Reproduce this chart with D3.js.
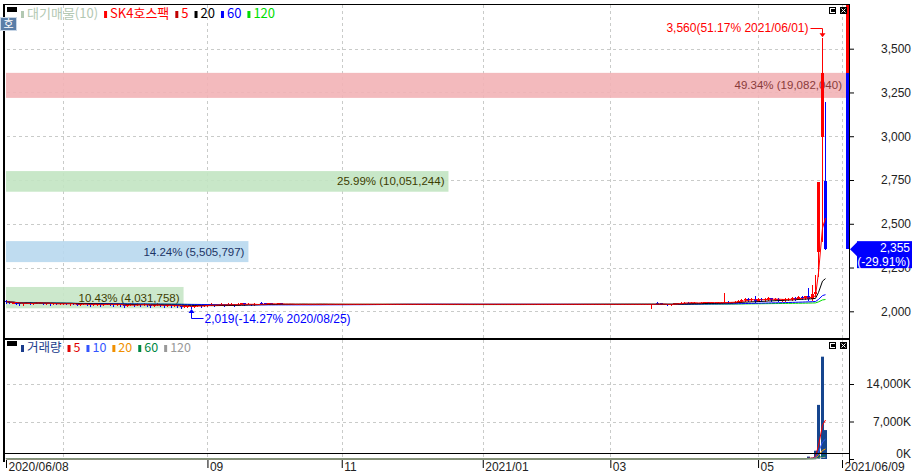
<!DOCTYPE html>
<html><head><meta charset="utf-8">
<script src="https://cdn.jsdelivr.net/npm/d3@7"></script>
<style>body{margin:0;background:#fff}svg{display:block}</style>
</head><body>
<svg id="c" width="912" height="476"></svg>
<script>
// ---------------- DATA ----------------
const startDate = "2020-06-08", endDate = "2021-06-09";
const holidays = ["2020-08-17","2020-09-30","2020-10-01","2020-10-02","2020-10-09","2020-12-25","2020-12-31",
  "2021-01-01","2021-02-11","2021-02-12","2021-03-01","2021-05-05","2021-05-19"];
// daily [open, high, low, close] from 2020-06-08 to 2021-06-02
const ohlc = [
 // June 2020
 [2060,2065,2050,2055],[2055,2060,2045,2050],[2050,2055,2045,2050],[2050,2055,2040,2045],[2045,2050,2035,2040],
 [2040,2050,2035,2045],[2045,2055,2045,2050],[2050,2055,2040,2045],[2045,2050,2040,2045],[2045,2055,2045,2050],
 [2050,2055,2045,2050],[2050,2050,2040,2045],[2045,2050,2040,2045],[2045,2045,2035,2040],[2040,2050,2040,2045],
 [2045,2050,2040,2040],[2040,2050,2040,2045],
 // July
 [2045,2050,2040,2045],[2045,2050,2040,2040],[2040,2045,2035,2045],[2045,2050,2040,2040],[2040,2045,2035,2035],
 [2035,2045,2035,2040],[2040,2050,2040,2045],[2045,2045,2035,2040],[2040,2040,2030,2035],[2035,2045,2035,2040],
 [2040,2045,2035,2040],[2040,2040,2030,2035],[2035,2045,2035,2040],[2040,2050,2040,2045],[2045,2045,2035,2040],
 [2040,2040,2030,2035],[2035,2045,2035,2040],[2040,2040,2030,2035],[2035,2035,2025,2030],[2030,2040,2030,2035],
 [2035,2045,2035,2040],[2040,2040,2030,2035],[2035,2045,2035,2040],
 // August
 [2040,2040,2030,2035],[2035,2045,2035,2040],[2040,2040,2030,2035],[2035,2035,2025,2030],[2030,2040,2030,2035],
 [2035,2045,2035,2040],[2040,2040,2030,2035],[2035,2035,2025,2030],[2030,2040,2030,2035],[2035,2035,2025,2030],
 [2030,2040,2030,2035],[2035,2035,2025,2030],[2030,2030,2020,2025],[2025,2035,2025,2030],[2030,2030,2025,2030],
 [2030,2030,2019,2025],[2025,2035,2025,2030],[2030,2040,2030,2035],[2035,2035,2025,2030],[2030,2040,2030,2035],
 // September
 [2035,2040,2030,2035],[2035,2045,2035,2040],[2040,2040,2030,2035],[2035,2040,2035,2035],[2035,2045,2035,2040],
 [2040,2040,2030,2035],[2035,2045,2035,2040],[2040,2045,2035,2040],[2040,2040,2030,2035],[2035,2045,2035,2040],
 [2040,2050,2040,2045],[2045,2045,2035,2040],[2040,2045,2040,2040],[2040,2040,2035,2035],[2035,2045,2035,2040],
 [2040,2040,2040,2040],[2050,2052,2045,2047],[2047,2047,2040,2040],[2040,2045,2040,2045],[2045,2045,2040,2040],
 [2040,2040,2040,2040],
 // October
 [2040,2045,2040,2045],[2045,2045,2040,2040],
 [2040,2040,2040,2040],[2040,2040,2040,2040],[2040,2040,2040,2040],[2040,2040,2040,2040],[2040,2040,2040,2040],
 [2040,2040,2040,2040],[2040,2040,2040,2040],[2040,2040,2040,2040],[2040,2040,2040,2040],[2040,2040,2040,2040],
 [2040,2040,2040,2040],[2040,2040,2040,2040],[2040,2040,2040,2040],[2040,2040,2040,2040],[2040,2040,2040,2040],
 [2040,2040,2040,2040],[2040,2040,2040,2040],
 // November
 [2040,2040,2040,2040],[2040,2040,2040,2040],[2040,2040,2040,2040],[2040,2040,2040,2040],[2040,2040,2040,2040],
 [2040,2040,2040,2040],[2040,2040,2040,2040],[2040,2040,2040,2040],[2040,2040,2040,2040],[2040,2040,2040,2040],
 [2040,2040,2040,2040],[2040,2040,2040,2040],[2040,2040,2040,2040],[2040,2040,2040,2040],[2040,2040,2040,2040],
 [2040,2040,2040,2040],[2040,2040,2040,2040],[2040,2040,2040,2040],[2040,2040,2040,2040],[2040,2040,2040,2040],
 [2040,2040,2040,2040],
 // December
 [2040,2040,2040,2040],[2040,2040,2040,2040],[2040,2040,2040,2040],[2040,2040,2040,2040],[2040,2040,2040,2040],
 [2040,2040,2040,2040],[2040,2040,2040,2040],[2040,2040,2040,2040],[2040,2040,2040,2040],[2040,2040,2040,2040],
 [2040,2040,2040,2040],[2040,2040,2040,2040],[2040,2040,2040,2040],[2040,2040,2040,2040],[2040,2040,2040,2040],
 [2040,2040,2040,2040],[2040,2040,2040,2040],[2040,2040,2040,2040],[2040,2040,2040,2040],[2040,2040,2040,2040],
 [2040,2040,2040,2040],
 // January 2021
 [2040,2040,2040,2040],[2040,2040,2040,2040],[2040,2040,2040,2040],[2040,2040,2040,2040],[2040,2040,2040,2040],
 [2040,2040,2040,2040],[2040,2040,2040,2040],[2040,2040,2040,2040],[2040,2040,2040,2040],[2040,2040,2040,2040],
 [2040,2040,2040,2040],[2040,2040,2040,2040],[2040,2040,2040,2040],[2040,2040,2040,2040],[2040,2040,2040,2040],
 [2040,2040,2040,2040],[2040,2040,2040,2040],[2040,2040,2040,2040],[2040,2040,2040,2040],[2040,2040,2040,2040],
 // February
 [2040,2040,2040,2040],[2040,2040,2040,2040],[2040,2040,2040,2040],[2040,2040,2040,2040],[2040,2040,2040,2040],
 [2040,2040,2040,2040],[2040,2040,2040,2040],[2040,2040,2040,2040],[2040,2040,2040,2040],[2040,2040,2040,2040],
 [2040,2040,2040,2040],[2040,2040,2040,2040],[2040,2040,2040,2040],[2040,2040,2040,2040],[2040,2040,2040,2040],
 [2040,2040,2040,2040],[2040,2040,2040,2040],[2040,2040,2040,2040],
 // March
 [2040,2040,2040,2040],[2040,2040,2040,2040],[2040,2040,2040,2040],[2040,2040,2040,2040],[2040,2040,2040,2040],
 [2040,2040,2040,2040],[2040,2040,2040,2040],[2040,2040,2040,2040],[2040,2040,2040,2040],[2040,2040,2040,2040],
 [2040,2040,2040,2040],[2040,2040,2040,2040],
 [2040,2040,2020,2040],[2040,2040,2040,2040],[2050,2055,2045,2045],[2045,2050,2040,2040],[2040,2040,2040,2040],
 [2040,2040,2035,2035],[2035,2040,2035,2040],[2040,2050,2040,2045],[2045,2050,2045,2050],[2050,2055,2045,2050],
 // April
 [2050,2055,2050,2050],[2050,2055,2045,2045],[2045,2055,2045,2050],[2050,2055,2045,2050],[2050,2050,2045,2045],
 [2045,2055,2045,2050],[2050,2055,2050,2055],[2055,2055,2045,2050],[2050,2055,2045,2050],[2050,2050,2045,2045],
 [2045,2055,2045,2050],[2050,2055,2045,2050],[2050,2105,2045,2055],[2055,2060,2050,2050],[2050,2055,2045,2050],
 [2050,2060,2050,2055],[2055,2065,2055,2060],[2060,2070,2055,2065],[2065,2075,2060,2070],[2070,2075,2060,2065],
 [2065,2075,2060,2070],[2070,2085,2055,2060],
 // May
 [2060,2075,2060,2070],[2070,2075,2060,2065],[2065,2075,2060,2070],[2070,2080,2065,2075],[2075,2075,2060,2065],
 [2065,2075,2065,2070],[2070,2075,2060,2065],[2065,2070,2060,2065],[2065,2075,2060,2070],[2070,2075,2065,2070],
 [2070,2080,2065,2075],[2075,2080,2065,2070],[2070,2085,2070,2080],[2080,2090,2070,2075],[2075,2090,2070,2085],
 [2085,2135,2065,2070],[2070,2150,2065,2100],[2100,2210,2085,2108],[2340,2740,2200,2740],
 // June 2021
 [2995,3560,2400,3360],[2745,3195,2355,2355]
];
// daily volume, thousands of shares
const volumes = [
 35,20,15,25,30,10,15,20,10,15,25,10,10,20,15,10,15,
 10,15,10,20,15,10,10,15,20,10,15,10,5,10,15,20,10,15,25,10,10,15,10,
 15,10,10,20,15,10,15,20,10,15,10,20,30,15,10,45,20,10,15,10,
 10,15,10,5,10,15,10,5,10,5,15,10,5,5,10,0,20,10,5,5,0,
 10,5,
 0,0,0,0,0,0,0,0,0,0, 0,0,0,0,0,0,0,0,0,0, 0,0,0,0,0,0,0,0,0,0,
 0,0,0,0,0,0,0,0,0,0, 0,0,0,0,0,0,0,0,0,0, 0,0,0,0,0,0,0,0,0,0,
 0,0,0,0,0,0,0,0,0,0, 0,0,0,0,0,0,0,0,0,0, 0,0,0,0,0,0,0,0,0,0,
 0,0,0,0,0,0,0,0,0,0, 0,0,0,0,0,0,0,0,0,
 60,0,30,20,0,15,25,30,20,60,
 25,20,30,15,10,25,30,20,15,10,20,25,90,30,20,25,40,50,60,35,40,70,
 40,35,45,50,30,35,30,25,40,35,50,45,60,55,80,450,250,1550,10100,
 19100,5400
];
const prevClose = 3360;
const priceTicks = [2000,2250,2500,2750,3000,3250,3500];
const volumeTicks = [0,7000,14000];
const dateTickDates = ["2020-06-08","2020-09-01","2020-11-02","2021-01-04","2021-03-02","2021-05-03","2021-06-09"];
const dateTickLabels = ["2020/06/08","09","11","2021/01","03","05","2021/06/09"];
const gridDates = ["2020-07-01","2020-09-01","2020-11-02","2021-01-04","2021-03-02","2021-05-03","2021-06-09"];
// volume-by-price bands (대기매물)
const bandLow  = [3219,2683,2281,2017];
const bandHigh = [3362,2801,2401,2139];
const bandPct  = [49.34,25.99,14.24,10.43];
const bandVol  = [19082040,10051244,5505797,4031758];
const bandFill = ["#f2b3b6","#c2e4c2","#b8d8ee","#c6e6c6"];
const bandText = ["#8a3a3a","#3c3c00","#1c3466","#3c3c00"];
const maPeriods = [120,60,20,5];
const maColors  = ["#00dd00","#0000ff","#000000","#ff0000"];
const volMaPeriods = [5,10,20,60,120];
const volMaColors  = ["#ff0000","#3355ff","#ffa000","#008040","#a0a0a0"];
const legendLabels = ["대기매물(10)","SK4호스팩","5","20","60","120"];
const legendColors = ["#b2c8b2","#ff0000","#ff0000","#000000","#0000ff","#00dd00"];
const legendMarks  = ["#b2c8b2","#ff0000","#c00000","#000000","#0000ff","#00dd00"];
const volLegendLabels = ["거래량","5","10","20","60","120"];
const volLegendColors = ["#1a3c8c","#e00000","#3355ff","#f09000","#008844","#999999"];

// ---------------- CHART ----------------
const svg = d3.select("#c");
const L = 5, R = 849, MT = 5, MB = 338, VT = 340, VB = 459;
const fmt = d3.format(",");
const AX = "'Liberation Sans', Arial, sans-serif";
const KR = "'Noto Sans CJK KR', sans-serif";

const hol = new Set(holidays);
const days = [];
for (let d = new Date(startDate + "T00:00:00Z"); d <= new Date(endDate + "T00:00:00Z"); d.setUTCDate(d.getUTCDate() + 1)) {
  const wd = d.getUTCDay(), s = d.toISOString().slice(0, 10);
  if (wd > 0 && wd < 6 && !hol.has(s)) days.push(s);
}
const idx = s => days.indexOf(s);
const x = d3.scaleLinear().domain([0, days.length - 1]).range([6, 842]);
const y = d3.scaleLinear().domain([2000, 3500]).range([311.3, 48.7]);
const yv = d3.scaleLinear().domain([0, 14000]).range([459, 384]);
const xc = i => Math.round(x(i));

const defs = svg.append("defs");
defs.append("clipPath").attr("id", "cm").append("rect").attr("x", L).attr("y", MT).attr("width", R - L).attr("height", MB - MT);
defs.append("clipPath").attr("id", "cv").append("rect").attr("x", L).attr("y", VT).attr("width", R - L).attr("height", VB - VT + 1);

// grid
const grid = svg.append("g").attr("stroke", "#c9cbc9").attr("stroke-dasharray", "3,3").attr("shape-rendering", "crispEdges");
grid.selectAll(".hp").data(priceTicks).join("line").attr("class", "hp")
  .attr("x1", L + 2).attr("x2", 846).attr("y1", d => Math.round(y(d)) + 0.5).attr("y2", d => Math.round(y(d)) + 0.5);
grid.selectAll(".vm").data(gridDates.map(idx)).join("line").attr("class", "vm")
  .attr("x1", d => xc(d) + 0.5).attr("x2", d => xc(d) + 0.5).attr("y1", MT).attr("y2", MB);
grid.selectAll(".vv").data(gridDates.map(idx)).join("line").attr("class", "vv")
  .attr("x1", d => xc(d) + 0.5).attr("x2", d => xc(d) + 0.5).attr("y1", VT).attr("y2", VB);
grid.selectAll(".hv").data(volumeTicks.filter(v => v > 0)).join("line").attr("class", "hv")
  .attr("x1", L + 2).attr("x2", 846).attr("y1", d => Math.round(yv(d)) + 0.5).attr("y2", d => Math.round(yv(d)) + 0.5);

// volume-by-price bands
const bw = d3.scaleLinear().domain([0, d3.max(bandPct)]).range([L + 1, 846]);
const bands = svg.append("g");
bands.selectAll("rect").data(bandPct).join("rect")
  .attr("x", L + 1).attr("width", d => bw(d) - L - 1)
  .attr("y", (d, i) => y(bandHigh[i])).attr("height", (d, i) => y(bandLow[i]) - y(bandHigh[i]))
  .attr("fill", (d, i) => bandFill[i]).attr("opacity", 0.9);

// candles
const cg = svg.append("g").attr("clip-path", "url(#cm)").attr("shape-rendering", "crispEdges");
const col = d => d[3] < d[0] ? "#0000ff" : "#ff0000";
cg.selectAll(".wick").data(ohlc).join("line").attr("class", "wick")
  .attr("x1", (d, i) => xc(i) + 0.5).attr("x2", (d, i) => xc(i) + 0.5)
  .attr("y1", d => Math.round(y(d[1]))).attr("y2", d => Math.round(y(d[2])) + 1)
  .attr("stroke", col);
cg.selectAll(".body").data(ohlc).join("rect").attr("class", "body")
  .attr("x", (d, i) => xc(i) - 1).attr("width", 3)
  .attr("y", d => Math.round(y(Math.max(d[0], d[3]))))
  .attr("height", d => Math.max(1, Math.round(y(Math.min(d[0], d[3]))) - Math.round(y(Math.max(d[0], d[3])))))
  .attr("fill", col);

// moving averages
const closes = ohlc.map(d => d[3]);
const ma = (arr, n) => arr.map((v, i) => d3.mean(arr.slice(Math.max(0, i - n + 1), i + 1)));
const line = d3.line().x((d, i) => xc(i) + 0.5).y(d => y(d));
maPeriods.forEach((n, k) => {
  cg.append("path").attr("d", line(ma(closes, n))).attr("fill", "none").attr("stroke", maColors[k]).attr("stroke-width", 1).attr("shape-rendering", "auto");
});

// band labels
bands.selectAll("text").data(bandPct).join("text")
  .attr("x", d => bw(d) - 4).attr("y", (d, i) => (y(bandHigh[i]) + y(bandLow[i])) / 2 + 4)
  .attr("text-anchor", "end").attr("font-family", AX).attr("font-size", 11.5)
  .attr("fill", (d, i) => bandText[i])
  .text((d, i) => `${d.toFixed(2)}% (${fmt(bandVol[i])})`);

// volume bars and averages
const vg = svg.append("g").attr("clip-path", "url(#cv)");
vg.selectAll("rect").data(volumes).join("rect")
  .attr("x", (d, i) => xc(i) - 1).attr("width", 3)
  .attr("y", d => yv(d)).attr("height", d => yv(0) - yv(d))
  .attr("fill", "#16458e");
const vline = d3.line().x((d, i) => xc(i) + 0.5).y(d => yv(d));
volMaPeriods.forEach((n, k) => {
  vg.append("path").attr("d", vline(ma(volumes, n))).attr("fill", "none").attr("stroke", volMaColors[k]).attr("stroke-width", 1);
});

// frame
const fr = svg.append("g").attr("stroke", "#000").attr("shape-rendering", "crispEdges");
fr.append("line").attr("x1", L).attr("x2", R).attr("y1", 4.5).attr("y2", 4.5);
fr.append("line").attr("x1", 4).attr("x2", 4).attr("y1", 4).attr("y2", 462).attr("stroke-width", 2);
fr.append("line").attr("x1", 3).attr("x2", R).attr("y1", 338.5).attr("y2", 338.5).attr("stroke-width", 2);
fr.append("line").attr("x1", L).attr("x2", R).attr("y1", 453.5).attr("y2", 453.5);
fr.append("line").attr("x1", R + 0.5).attr("x2", R + 0.5).attr("y1", 4).attr("y2", 463);

// right-edge price indicator
const last = closes[closes.length - 1];
const ri = svg.append("g").attr("shape-rendering", "crispEdges");
ri.append("rect").attr("x", 846).attr("width", 3).attr("y", Math.max(MT, y(prevClose * 1.3)))
  .attr("height", y(prevClose) - Math.max(MT, y(prevClose * 1.3))).attr("fill", "#ff0000");
ri.append("rect").attr("x", 846).attr("width", 3).attr("y", y(prevClose)).attr("height", y(last) - y(prevClose)).attr("fill", "#0000ff");

// price axis
const pa = svg.append("g").attr("transform", `translate(${R},0)`)
  .call(d3.axisRight(y).tickValues(priceTicks).tickSize(5).tickFormat(fmt));
pa.select(".domain").remove();
pa.selectAll("text").attr("x", 62).attr("text-anchor", "end").attr("font-family", AX).attr("font-size", 12).attr("fill", "#222");
pa.selectAll("line").attr("stroke", "#000");

// volume axis
const va = svg.append("g").attr("transform", `translate(${R},0)`)
  .call(d3.axisRight(yv).tickValues(volumeTicks).tickSize(5).tickFormat(d => fmt(d) + "K"));
va.select(".domain").remove();
va.selectAll("text").attr("x", 62).attr("text-anchor", "end").attr("font-family", AX).attr("font-size", 12).attr("fill", "#222")
  .attr("y", d => d === 0 ? -5 : 0);

// date axis
const da = svg.append("g").attr("transform", `translate(0,${VB + 1})`)
  .call(d3.axisBottom(x).tickValues(dateTickDates.map(idx)).tickSize(8).tickFormat((d, i) => dateTickLabels[i]));
da.select(".domain").remove();
da.selectAll("line").attr("stroke", "#000");
da.selectAll("text").attr("text-anchor", "start").attr("x", 2).attr("y", 2)
  .attr("font-family", AX).attr("font-size", 12).attr("fill", "#222");

// current price box
const yl = y(last);
const cb = svg.append("g");
cb.append("path").attr("d", `M${R + 1},${yl} L${R + 8},${yl - 7} L${R + 8},${yl + 7} Z`).attr("fill", "#0000ff");
cb.append("rect").attr("x", 857).attr("y", yl - 8).attr("width", 55).attr("height", 27).attr("fill", "#0000ff");
cb.append("text").attr("x", 910).attr("y", yl + 3).attr("text-anchor", "end").attr("font-family", AX).attr("font-size", 12).attr("fill", "#fff").text(fmt(last));
cb.append("text").attr("x", 910).attr("y", yl + 17).attr("text-anchor", "end").attr("font-family", AX).attr("font-size", 12).attr("fill", "#fff")
  .text(`(${((last - prevClose) / prevClose * 100).toFixed(2)}%)`);

// high / low annotations
const highs = ohlc.map(d => d[1]), lows = ohlc.map(d => d[2]);
const iH = d3.maxIndex(highs), iL = d3.minIndex(lows);
const pct = v => ((v - last) / last * 100).toFixed(2);
const ds = i => days[i].replace(/-/g, "/");
const xh = xc(iH) + 0.5, yh = y(highs[iH]);
const an = svg.append("g");
an.append("path").attr("d", `M${xh - 12},${Math.round(yh - 10) + 0.5} H${xh} V${yh - 4}`).attr("fill", "none").attr("stroke", "#ff0000");
an.append("path").attr("d", `M${xh - 3},${yh - 5} L${xh + 3},${yh - 5} L${xh},${yh - 1} Z`).attr("fill", "#ff0000");
an.append("text").attr("x", xh - 14).attr("y", yh - 6).attr("text-anchor", "end").attr("font-family", AX).attr("font-size", 12).attr("fill", "#ff0000")
  .text(`${fmt(highs[iH])}(${pct(highs[iH])}% ${ds(iH)})`);
const xl = xc(iL) + 0.5, ylo = y(lows[iL]);
an.append("path").attr("d", `M${xl},${ylo + 4} V${Math.round(ylo + 10) + 0.5} H${xl + 12}`).attr("fill", "none").attr("stroke", "#0000ff");
an.append("path").attr("d", `M${xl - 3},${ylo + 5} L${xl + 3},${ylo + 5} L${xl},${ylo + 1} Z`).attr("fill", "#0000ff");
an.append("text").attr("x", xl + 13).attr("y", ylo + 15).attr("font-family", AX).attr("font-size", 12).attr("fill", "#0000ff")
  .text(`${fmt(lows[iL])}(${pct(lows[iL])}% ${ds(iL)})`);

// legends
function legend(labels, tcolors, mcolors, x0, yb, fs) {
  const g = svg.append("g");
  let cx = x0;
  labels.forEach((t, i) => {
    g.append("rect").attr("x", cx).attr("y", yb - 7).attr("width", 3).attr("height", 7).attr("fill", mcolors[i]);
    const tx = g.append("text").attr("x", cx + 6).attr("y", yb).attr("font-family", KR).attr("font-size", fs)
      .attr("fill", tcolors[i]).text(t);
    cx += 6 + tx.node().getComputedTextLength() + 6;
  });
}
function box(y0) {
  svg.append("rect").attr("x", 7).attr("y", y0).attr("width", 10).attr("height", 5).attr("fill", "#000");
}
box(7); box(341);
legend(legendLabels, legendColors, legendMarks, 21, 18, 13);
legend(volLegendLabels, volLegendColors, volLegendColors, 21, 352, 12.5);

// "호" button
svg.append("rect").attr("x", 0.5).attr("y", 17.5).attr("width", 16).attr("height", 13).attr("fill", "#5a7ea8").attr("stroke", "#c8d6e6");
svg.append("text").attr("x", 8.5).attr("y", 28).attr("text-anchor", "middle").attr("font-family", KR).attr("font-size", 11).attr("fill", "#fff").text("호");

// panel icons
function icons(y0) {
  const g = svg.append("g").attr("shape-rendering", "crispEdges");
  g.append("rect").attr("x", 829.5).attr("y", y0 + 0.5).attr("width", 6).attr("height", 6).attr("fill", "#fff").attr("stroke", "#000");
  g.append("rect").attr("x", 831).attr("y", y0 + 2).attr("width", 4).attr("height", 3).attr("fill", "#000");
  g.append("rect").attr("x", 840).attr("y", y0).attr("width", 7).attr("height", 7).attr("fill", "#000");
  g.append("path").attr("d", `M841.5,${y0 + 1.5} L845.5,${y0 + 5.5} M845.5,${y0 + 1.5} L841.5,${y0 + 5.5}`).attr("stroke", "#fff").attr("shape-rendering", "auto");
}
icons(7); icons(342);
</script>
</body></html>
